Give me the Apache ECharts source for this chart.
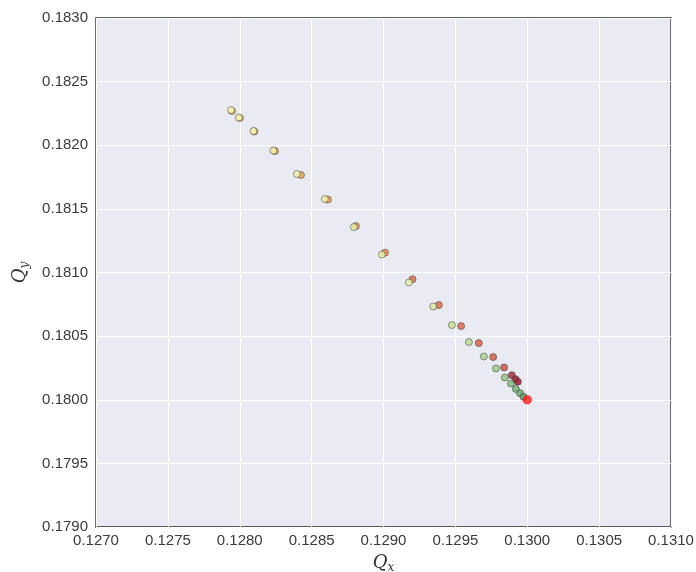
<!DOCTYPE html>
<html>
<head>
<meta charset="utf-8">
<script src="https://cdn.jsdelivr.net/npm/echarts@6/dist/echarts.min.js"></script>
<style>
  html, body { margin: 0; padding: 0; background: #ffffff; }
  #chart { width: 696px; height: 572px; }
</style>
</head>
<body>
<div id="chart"></div>
<script>
// Tune trajectories (Qx, Qy): two paths that converge on the working point.
const pathAQx = [0.127939, 0.127994, 0.128095, 0.128234, 0.128398, 0.128592, 0.128794, 0.128989,
                 0.129177, 0.129346, 0.129476, 0.129594, 0.129698, 0.129782, 0.129844, 0.129886,
                 0.129921, 0.129950, 0.129974];
const pathAQy = [0.182277, 0.182218, 0.182112, 0.181958, 0.181774, 0.181577, 0.181357, 0.181141,
                 0.180922, 0.180733, 0.180587, 0.180453, 0.180340, 0.180246, 0.180175, 0.180127,
                 0.180085, 0.180052, 0.180023];
const pathBQx = [0.127946, 0.128001, 0.128102, 0.128245, 0.128426, 0.128613, 0.128808, 0.129010,
                 0.129202, 0.129385, 0.129540, 0.129663, 0.129763, 0.129839, 0.129893, 0.129919,
                 0.129935];
const pathBQy = [0.182269, 0.182214, 0.182108, 0.181954, 0.181766, 0.181573, 0.181365, 0.181156,
                 0.180947, 0.180744, 0.180579, 0.180445, 0.180335, 0.180254, 0.180193, 0.180162,
                 0.180142];
const workingPoint = [0.1300, 0.1800];

// Axis ticks
const qxTicks = [0.1270, 0.1275, 0.1280, 0.1285, 0.1290, 0.1295, 0.1300, 0.1305, 0.1310];
const qyTicks = [0.1790, 0.1795, 0.1800, 0.1805, 0.1810, 0.1815, 0.1820, 0.1825, 0.1830];

// Simple colormap helpers (index along the path -> fill colour)
function hexToRgb(h) {
  return [parseInt(h.slice(1, 3), 16), parseInt(h.slice(3, 5), 16), parseInt(h.slice(5, 7), 16)];
}
function makeCmap(stops) {
  return function (t) {
    for (let i = 1; i < stops.length; i++) {
      if (t <= stops[i][0]) {
        const a = stops[i - 1], b = stops[i];
        const f = (t - a[0]) / (b[0] - a[0] || 1);
        const ca = hexToRgb(a[1]), cb = hexToRgb(b[1]);
        const c = ca.map((v, k) => Math.round(v + (cb[k] - v) * f));
        return 'rgb(' + c.join(',') + ')';
      }
    }
    return stops[stops.length - 1][1];
  };
}
const cmapA = makeCmap([[0, '#fbf8b8'], [0.45, '#e2eea4'], [0.7, '#a6d08a'], [1, '#5ea46c']]);
const cmapB = makeCmap([[0, '#e3bb4c'], [0.35, '#eb9a52'], [0.5, '#e2744c'], [0.8, '#d65c48'],
                        [0.87, '#a8303e'], [1, '#a02838']]);

function buildPoints(xs, ys, cmap) {
  const n = xs.length;
  return xs.map((x, i) => ({
    value: [x, ys[i]],
    itemStyle: { color: cmap(n > 1 ? i / (n - 1) : 0) }
  }));
}

const fmt = v => Number(v).toFixed(4);
const labelFont = { color: '#3a3a3a', fontSize: 15, fontFamily: 'Liberation Sans, Arial, sans-serif' };

const markerStyle = {
  opacity: 0.85,
  borderColor: 'rgba(40,40,40,0.55)',
  borderWidth: 1
};

const nameRich = {
  q: { fontFamily: 'DejaVu Serif', fontStyle: 'italic', fontSize: 18, color: '#333' },
  s: { fontFamily: 'DejaVu Serif', fontStyle: 'italic', fontSize: 12, color: '#333', padding: [10, 0, 0, 0] }
};

const chart = echarts.init(document.getElementById('chart'), null, { renderer: 'canvas' });
chart.setOption({
  animation: false,
  backgroundColor: '#ffffff',
  grid: {
    left: 96, top: 18, right: 25, bottom: 45,
    containLabel: false,
    outerBoundsMode: 'none',
    show: true,
    backgroundColor: '#eaeaf2',
    borderColor: '#2a2a2a',
    borderWidth: 1.5
  },
  xAxis: {
    type: 'value',
    min: qxTicks[0], max: qxTicks[qxTicks.length - 1], interval: 0.0005,
    axisLine: { show: false }, axisTick: { show: false },
    splitLine: { show: true, lineStyle: { color: '#ffffff', width: 1.2 } },
    axisLabel: Object.assign({ formatter: fmt, margin: 6, showMinLabel: true, showMaxLabel: true }, labelFont),
    name: '{q|Q}{s|x}',
    nameLocation: 'middle',
    nameGap: 25,
    nameTextStyle: { rich: nameRich }
  },
  yAxis: {
    type: 'value',
    min: qyTicks[0], max: qyTicks[qyTicks.length - 1], interval: 0.0005,
    axisLine: { show: false }, axisTick: { show: false },
    splitLine: { show: true, lineStyle: { color: '#ffffff', width: 1.2 } },
    axisLabel: Object.assign({ formatter: fmt, margin: 8, showMinLabel: true, showMaxLabel: true }, labelFont),
    name: '{q|Q}{s|y}',
    nameLocation: 'middle',
    nameGap: 63,
    nameRotate: 90,
    nameTextStyle: { rich: nameRich }
  },
  series: [
    {
      type: 'scatter', symbolSize: 7,
      itemStyle: markerStyle,
      data: buildPoints(pathBQx, pathBQy, cmapB)
    },
    {
      type: 'scatter', symbolSize: 7,
      itemStyle: markerStyle,
      data: buildPoints(pathAQx, pathAQy, cmapA)
    },
    {
      type: 'scatter', symbolSize: 9,
      itemStyle: { color: '#ff1a1a', borderColor: 'rgba(200,0,0,0.6)', borderWidth: 0.5 },
      data: [workingPoint]
    }
  ]
});
</script>
</body>
</html>
